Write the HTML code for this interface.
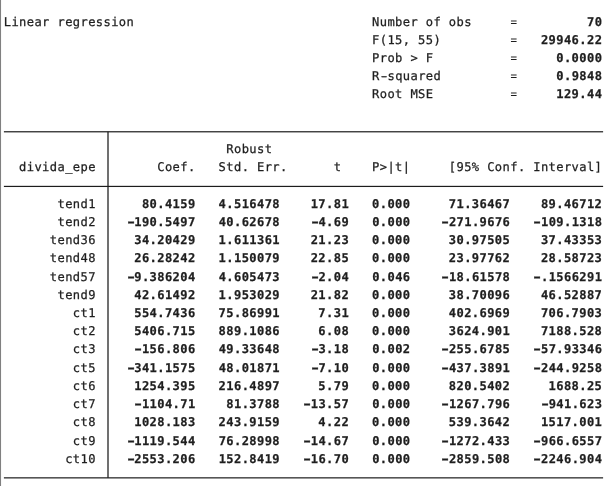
<!DOCTYPE html>
<html lang="en">
<head>
<meta charset="utf-8">
<title>Linear regression</title>
<style>
html,body{margin:0;padding:0;background:#fff;}
body{width:611px;height:486px;overflow:hidden;position:relative;}
#out{position:absolute;left:0;top:0;width:611px;height:486px;overflow:hidden;background:#fff;
  font-family:"DejaVu Sans Mono","Liberation Mono",monospace;font-size:12.1px;line-height:18px;
  color:#1e1e1e;font-kerning:none;font-variant-ligatures:none;letter-spacing:0.3925px;filter:grayscale(1);text-rendering:geometricPrecision;-webkit-text-stroke:0.25px;}
.ln{position:absolute;left:3.75px;white-space:pre;height:18px;margin:0;}
.ln b{font-weight:bold;}
.e{display:inline-block;transform:scaleX(0.9);transform-origin:50% 50%;-webkit-text-stroke:0;}
.m{display:inline-block;transform:translateX(0.5px) scaleX(1.53);transform-origin:50% 50%;}
</style>
</head>
<body>
<div id="out">
<div class="ln" style="top:13px">Linear regression                               Number of obs     <span class="e">=</span><b>         70</b></div>
<div class="ln" style="top:31px">                                                F(15, 55)         <span class="e">=</span><b>   29946.22</b></div>
<div class="ln" style="top:49px">                                                Prob &gt; F          <span class="e">=</span><b>     0.0000</b></div>
<div class="ln" style="top:67px">                                                R<span class="m">-</span>squared         <span class="e">=</span><b>     0.9848</b></div>
<div class="ln" style="top:85px">                                                Root MSE          <span class="e">=</span><b>     129.44</b></div>
<div class="ln" style="top:140px">                             Robust</div>
<div class="ln" style="top:158px">  divida_epe        Coef.   Std. Err.      t    P&gt;|t|     [95% Conf. Interval]</div>
<div class="ln" style="top:195px">       tend1  <b>    80.4159   4.516478    17.81   0.000     71.36467    89.46712</b></div>
<div class="ln" style="top:213px">       tend2  <b>  <span class="m">-</span>190.5497   40.62678    <span class="m">-</span>4.69   0.000    <span class="m">-</span>271.9676   <span class="m">-</span>109.1318</b></div>
<div class="ln" style="top:231px">      tend36  <b>   34.20429   1.611361    21.23   0.000     30.97505    37.43353</b></div>
<div class="ln" style="top:249px">      tend48  <b>   26.28242   1.150079    22.85   0.000     23.97762    28.58723</b></div>
<div class="ln" style="top:268px">      tend57  <b>  <span class="m">-</span>9.386204   4.605473    <span class="m">-</span>2.04   0.046    <span class="m">-</span>18.61578   <span class="m">-</span>.1566291</b></div>
<div class="ln" style="top:286px">       tend9  <b>   42.61492   1.953029    21.82   0.000     38.70096    46.52887</b></div>
<div class="ln" style="top:304px">         ct1  <b>   554.7436   75.86991     7.31   0.000     402.6969    706.7903</b></div>
<div class="ln" style="top:322px">         ct2  <b>   5406.715   889.1086     6.08   0.000     3624.901    7188.528</b></div>
<div class="ln" style="top:340px">         ct3  <b>   <span class="m">-</span>156.806   49.33648    <span class="m">-</span>3.18   0.002    <span class="m">-</span>255.6785   <span class="m">-</span>57.93346</b></div>
<div class="ln" style="top:359px">         ct5  <b>  <span class="m">-</span>341.1575   48.01871    <span class="m">-</span>7.10   0.000    <span class="m">-</span>437.3891   <span class="m">-</span>244.9258</b></div>
<div class="ln" style="top:377px">         ct6  <b>   1254.395   216.4897     5.79   0.000     820.5402     1688.25</b></div>
<div class="ln" style="top:395px">         ct7  <b>   <span class="m">-</span>1104.71    81.3788   <span class="m">-</span>13.57   0.000    <span class="m">-</span>1267.796    <span class="m">-</span>941.623</b></div>
<div class="ln" style="top:413px">         ct8  <b>   1028.183   243.9159     4.22   0.000     539.3642    1517.001</b></div>
<div class="ln" style="top:432px">         ct9  <b>  <span class="m">-</span>1119.544   76.28998   <span class="m">-</span>14.67   0.000    <span class="m">-</span>1272.433   <span class="m">-</span>966.6557</b></div>
<div class="ln" style="top:450px">        ct10  <b>  <span class="m">-</span>2553.206   152.8419   <span class="m">-</span>16.70   0.000    <span class="m">-</span>2859.508   <span class="m">-</span>2246.904</b></div>
<svg class="rules" width="611" height="486" viewBox="0 0 611 486" style="position:absolute;left:0;top:0" shape-rendering="geometricPrecision">
<rect x="0" y="0" width="1.05" height="486" fill="#808080"/>
<rect x="3.9" y="131.18" width="599.20" height="1.2" fill="#1c1c1c"/>
<rect x="3.9" y="185.82" width="599.20" height="1.2" fill="#1c1c1c"/>
<rect x="3.9" y="477.26" width="599.20" height="1.2" fill="#1c1c1c"/>
<rect x="107.375" y="131.78" width="1.25" height="346.08" fill="#1c1c1c"/>
</svg>
</div>
</body>
</html>
